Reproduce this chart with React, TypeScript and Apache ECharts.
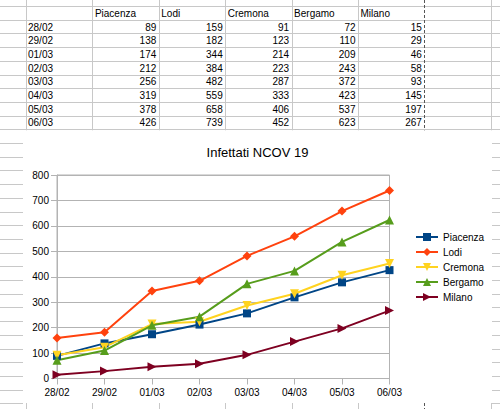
import React, { useEffect, useRef } from "react";
import * as echarts from "echarts";

const dates = ["28/02", "29/02", "01/03", "02/03", "03/03", "04/03", "05/03", "06/03"];
const provinces = ["Piacenza", "Lodi", "Cremona", "Bergamo", "Milano"];
const piacenza = [89, 138, 174, 212, 256, 319, 378, 426];
const lodi = [159, 182, 344, 384, 482, 559, 658, 739];
const cremona = [91, 123, 214, 223, 287, 333, 406, 452];
const bergamo = [72, 110, 209, 243, 372, 423, 537, 623];
const milano = [15, 29, 46, 58, 93, 145, 197, 267];
const yMin = 0;
const yMax = 800;
const yStep = 100;
const chartTitle = "Infettati NCOV 19";

const seriesValues = [piacenza, lodi, cremona, bergamo, milano];
const colors = ["#004586", "#ff420e", "#ffd320", "#579d1c", "#7e0021"];
const symbols = ["rect", "diamond", "triangle", "triangle", "triangle"];
const symbolRotates = [0, 0, 180, 0, -90];
const symbolSizes = [8, 9, 9, 9, 9];

const FONT = '"Liberation Sans", Arial, sans-serif';
const W = 500;
const H = 409;
const ROW_H = 13.7;
const ROW_TOP = 6;
const COL_X0 = 26;
const COL_W = 66.4;
const TABLE_BOTTOM = ROW_TOP + ROW_H * 9;
const OBJ_LEFT = 23;
const OBJ_RIGHT = 492;
const OBJ_BOTTOM = 403;
const GRID_COLOR = "#c8c8c8";

function px(v: number) {
  return Math.round(v) + 0.5;
}

function hline(x1: number, x2: number, y: number, color = GRID_COLOR) {
  return {
    type: "line",
    silent: true,
    shape: { x1, y1: px(y), x2, y2: px(y) },
    style: { stroke: color, lineWidth: 1 },
  };
}

function vline(x: number, y1: number, y2: number, color = GRID_COLOR, dash?: number[]) {
  return {
    type: "line",
    silent: true,
    shape: { x1: px(x), y1, x2: px(x), y2 },
    style: { stroke: color, lineWidth: 1, lineDash: dash },
  };
}

function cellText(text: string, x: number, row: number, align: string) {
  const y = ROW_TOP + ROW_H * row + ROW_H / 2 + 0.5;
  return {
    type: "text",
    silent: true,
    x,
    y,
    style: {
      text,
      fill: "#000",
      font: `10px ${FONT}`,
      textAlign: align,
      align,
      textVerticalAlign: "middle",
      verticalAlign: "middle",
    },
  };
}

function buildSheet() {
  const els: any[] = [];
  for (let k = 0; ROW_TOP + ROW_H * k < H; k++) {
    const y = ROW_TOP + ROW_H * k;
    if (y <= TABLE_BOTTOM + 0.5 || y > OBJ_BOTTOM + 0.5) {
      els.push(hline(0, W, y));
    } else {
      els.push(hline(0, OBJ_LEFT, y));
      els.push(hline(OBJ_RIGHT, W, y));
    }
  }
  for (let i = 0; i < 8; i++) {
    const x = COL_X0 + COL_W * i;
    const dashed = i === 6;
    const color = dashed ? "#555" : GRID_COLOR;
    const dash = dashed ? [3, 2] : undefined;
    els.push(vline(x, 0, TABLE_BOTTOM + 1, color, dash));
    els.push(vline(x, OBJ_BOTTOM, H, color, dash));
  }
  provinces.forEach((p, i) => {
    els.push(cellText(p, COL_X0 + COL_W * (i + 1) + 2.5, 0, "left"));
  });
  dates.forEach((d, r) => {
    els.push(cellText(d, COL_X0 + 2, r + 1, "left"));
    seriesValues.forEach((vals, i) => {
      els.push(cellText(String(vals[r]), COL_X0 + COL_W * (i + 2) - 2.5, r + 1, "right"));
    });
  });
  els.push({
    type: "text",
    silent: true,
    x: (OBJ_LEFT + OBJ_RIGHT) / 2,
    y: 152,
    style: {
      text: chartTitle,
      fill: "#000",
      font: `13px ${FONT}`,
      textAlign: "center",
      align: "center",
      textVerticalAlign: "middle",
      verticalAlign: "middle",
    },
  });
  return els;
}

export default function App() {
  const ref = useRef<HTMLDivElement>(null);

  useEffect(() => {
    if (!ref.current) return;
    const chart = echarts.init(ref.current, undefined, { renderer: "svg", width: W, height: H });
    const option: any = {
      animation: false,
      backgroundColor: "#fff",
      textStyle: { fontFamily: FONT },
      graphic: { elements: buildSheet() },
      grid: {
        left: 57,
        top: 175,
        right: W - 389.5,
        bottom: H - 378.5,
        show: true,
        borderColor: "#b3b3b3",
        borderWidth: 1,
        backgroundColor: "transparent",
      },
      legend: {
        orient: "vertical",
        left: 415,
        top: 232,
        padding: 0,
        itemWidth: 22,
        itemHeight: 10,
        itemGap: 5,
        textStyle: { fontSize: 10, color: "#000", fontFamily: FONT },
        data: provinces,
      },
      xAxis: {
        type: "category",
        data: dates,
        boundaryGap: false,
        axisLine: { show: true, lineStyle: { color: "#b3b3b3", width: 1 } },
        axisTick: { show: true, length: 6, inside: false, lineStyle: { color: "#b3b3b3" } },
        axisLabel: { color: "#000", fontSize: 10, margin: 9, fontFamily: FONT },
        splitLine: { show: false },
      },
      yAxis: {
        type: "value",
        min: yMin,
        max: yMax,
        interval: yStep,
        axisLine: { show: true, lineStyle: { color: "#b3b3b3", width: 1 } },
        axisTick: { show: true, length: 6, lineStyle: { color: "#b3b3b3" } },
        axisLabel: { color: "#000", fontSize: 10, margin: 8, fontFamily: FONT },
        splitLine: { show: true, lineStyle: { color: "#b3b3b3", width: 1 } },
      },
      series: provinces.map((name, i) => ({
        name,
        type: "line",
        data: seriesValues[i],
        color: colors[i],
        symbol: symbols[i],
        symbolRotate: symbolRotates[i],
        symbolSize: symbolSizes[i],
        showAllSymbol: true,
        lineStyle: { width: 2, color: colors[i] },
        itemStyle: { color: colors[i], borderWidth: 0 },
        emphasis: { disabled: true },
      })),
    };
    chart.setOption(option);
    return () => {
      chart.dispose();
    };
  }, []);

  return (
    <div
      ref={ref}
      style={{ position: "absolute", left: 0, top: 0, width: W, height: H, background: "#fff" }}
    />
  );
}
